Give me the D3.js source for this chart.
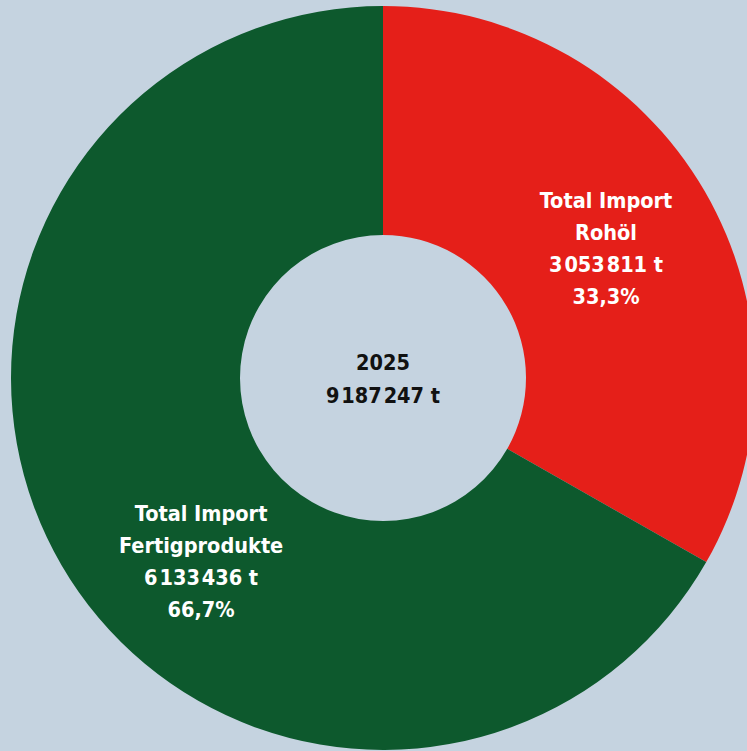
<!DOCTYPE html>
<html>
<head>
<meta charset="utf-8">
<script src="https://cdn.jsdelivr.net/npm/d3@7"></script>
<style>
  html, body { margin: 0; padding: 0; background: #c5d3e0; }
  svg { display: block; }
  text { font-family: "Liberation Sans Narrow", "DejaVu Sans Condensed", "Roboto", sans-serif; font-weight: bold; }
</style>
</head>
<body>
<div id="chart"></div>
<script>
// chart data
const categories = ["Rohöl", "Fertigprodukte"];
const values = [3053811, 6133436];
const percentLabels = ["33,3%", "66,7%"];
const year = "2025";

const width = 747, height = 751;
const cx = 383, cy = 378;
const outerR = 372, innerR = 143;
const colors = ["#e51f19", "#0d592d"];

// narrow-space thousands format, like "3 053 811"
const fmt = v => d3.format(",")(v).replace(/,/g, "\u200A");

const svg = d3.select("#chart")
  .append("svg")
  .attr("width", width)
  .attr("height", height);

svg.append("rect")
  .attr("width", width)
  .attr("height", height)
  .attr("fill", "#c5d3e0");

const g = svg.append("g")
  .attr("transform", "translate(" + cx + "," + cy + ")");

const pie = d3.pie().sort(null).value(d => d.value);
const data = categories.map((c, i) => ({ name: c, value: values[i], pct: percentLabels[i], i: i }));
const arcs = pie(data);

const arc = d3.arc().innerRadius(innerR).outerRadius(outerR);

g.selectAll("path.slice")
  .data(arcs)
  .enter().append("path")
  .attr("class", "slice")
  .attr("d", arc)
  .attr("fill", d => colors[d.index]);

// label placement: radius and angle shift per slice (degrees)
const labelR = 258;
const angleShift = [0, -15];
const lineH = 32;

arcs.forEach(d => {
  const a = (d.startAngle + d.endAngle) / 2 + angleShift[d.index] * Math.PI / 180;
  const x = Math.sin(a) * labelR;
  const y = -Math.cos(a) * labelR;
  const lines = ["Total Import", d.data.name, fmt(d.data.value) + " t", d.data.pct];
  const t = g.append("text")
    .attr("text-anchor", "middle")
    .attr("fill", "#fff")
    .attr("font-size", 21.5);
  lines.forEach((l, k) => {
    t.append("tspan")
      .attr("x", x)
      .attr("y", y + (k - 1.5) * lineH + 8)
      .text(l);
  });
});

// centre total
const total = d3.sum(values);
const ct = g.append("text")
  .attr("text-anchor", "middle")
  .attr("fill", "#111")
  .attr("font-size", 21.5);
[year, fmt(total) + " t"].forEach((l, k) => {
  ct.append("tspan")
    .attr("x", 0)
    .attr("y", -16 + k * 33 + 8)
    .text(l);
});
</script>
</body>
</html>
